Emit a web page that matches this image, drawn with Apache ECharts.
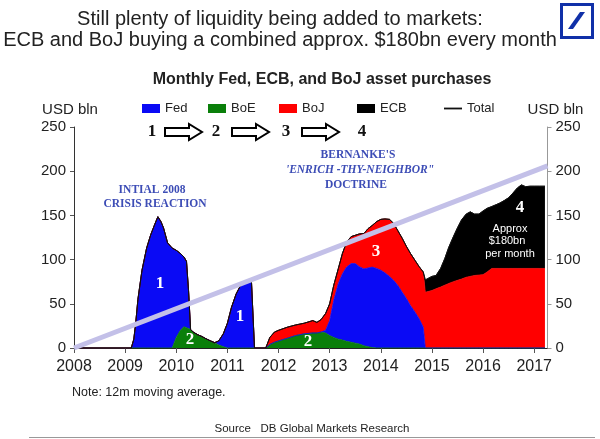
<!DOCTYPE html>
<html>
<head>
<meta charset="utf-8">
<script src="https://cdn.jsdelivr.net/npm/echarts@6/dist/echarts.min.js"></script>
<style>
  html, body { margin: 0; padding: 0; background: #fff; }
  #chart { width: 600px; height: 439px; }
</style>
</head>
<body>
<div id="chart"></div>
<script>
// x positions in fractional years, shared by all stacked series
const years = [
  2008.00, 2009.12, 2009.17, 2009.21, 2009.25, 2009.33, 2009.42, 2009.50, 2009.58, 2009.64,
  2009.70, 2009.75, 2009.83, 2009.92, 2010.00, 2010.08, 2010.15, 2010.20, 2010.24, 2010.28,
  2010.33, 2010.42, 2010.50, 2010.58, 2010.67, 2010.75, 2010.83, 2010.92, 2011.00, 2011.08,
  2011.17, 2011.25, 2011.33, 2011.42, 2011.47, 2011.53, 2011.75, 2011.83, 2011.92, 2012.00,
  2012.17, 2012.33, 2012.50, 2012.67, 2012.75, 2012.83, 2012.92, 2013.00, 2013.08, 2013.17,
  2013.25, 2013.33, 2013.42, 2013.50, 2013.58, 2013.67, 2013.75, 2013.83, 2013.92, 2014.00,
  2014.08, 2014.17, 2014.25, 2014.33, 2014.42, 2014.50, 2014.58, 2014.67, 2014.75, 2014.83,
  2014.87, 2015.00, 2015.08, 2015.17, 2015.25, 2015.33, 2015.42, 2015.50, 2015.58, 2015.67,
  2015.75, 2015.83, 2015.92, 2016.00, 2016.08, 2016.17, 2016.25, 2016.33, 2016.42, 2016.50,
  2016.58, 2016.67, 2016.75, 2016.83, 2016.92, 2017.00, 2017.10, 2017.21
];

// USD bln per month, 12m moving average (stack order: BoE, Fed, BoJ, ECB)
const boe = [
  0, 0, 0, 0, 0, 0, 0, 0, 0, 0,
  0, 0, 0, 0, 12, 20, 24, 23, 22, 21,
  18, 15, 13, 10.5, 8, 6, 3.5, 1.5, 0, 0,
  0, 0, 0, 0, 0, 0, 0, 4, 6.5, 8,
  11, 14, 16, 17, 17, 18, 17, 14, 12, 10,
  9, 7.5, 6.5, 5.5, 4.5, 2.5, 1.5, 0.5, 0, 0,
  0, 0, 0, 0, 0, 0, 0, 0, 0, 0,
  0, 0, 0, 0, 0, 0, 0, 0, 0, 0,
  0, 0, 0, 0, 0, 0, 0, 0, 0, 0,
  0, 0, 0, 0, 0, 0, 0, 0
];
const fed = [
  0, 0, 10, 30, 55, 88, 113, 128, 140, 148.5,
  143, 136, 119, 113, 98.5, 87, 79, 75, 43, 0,
  0, 0, 0, 0, 0, 0, 4.5, 14.5, 28, 46,
  61, 70, 74, 75.5, 76, 0, 0, 0, 0, 0,
  0, 0, 0, 0, 0, 0, 3, 17, 42, 63,
  75, 84, 89, 90, 87.5, 87, 89, 91, 90, 88,
  85, 81, 76.5, 71, 63, 56, 48, 40.5, 33, 23.5,
  0, 0, 0, 0, 0, 0, 0, 0, 0, 0,
  0, 0, 0, 0, 0, 0, 0, 0, 0, 0,
  0, 0, 0, 0, 0, 0, 0, 0
];
const boj = [
  0, 0, 0, 0, 0, 0, 0, 0, 0, 0,
  0, 0, 0, 0, 0, 0, 0, 0, 0, 0,
  0, 0, 0, 0, 0, 0, 0, 0, 0, 0,
  0, 0, 0, 0, 0, 0, 0, 8, 11.5, 12,
  12.5, 12, 12, 14, 12, 14, 19, 19, 17, 17,
  23, 28, 30.5, 32, 37, 40, 44.5, 47, 53, 57.5,
  61, 64.5, 64.5, 62, 61, 59, 59, 58.5, 59, 62.5,
  63, 65, 67, 69, 71, 73, 75, 76.5, 78, 80,
  81, 82, 82.5, 83, 86, 90, 90, 90, 90, 90,
  90, 90, 90, 90, 90, 90, 90, 90
];
const ecb = [
  0, 0, 0, 0, 0, 0, 0, 0, 0, 0,
  0, 0, 0, 0, 0, 0, 0, 0, 0, 0,
  0, 0, 0, 0, 0, 0, 0, 0, 0, 0,
  0, 0, 0, 0, 0, 0, 0, 0, 0, 0,
  0, 0, 0, 0, 0, 0, 0, 0, 0, 0,
  0, 0, 0, 0, 0, 0, 0, 0, 0, 0,
  0, 0, 0, 0, 0, 0, 0, 0, 0, 0,
  14, 16, 15, 21, 30, 41, 51, 59.5, 67, 71.5,
  73, 69.5, 69, 72, 72, 70, 72, 74, 77, 80,
  85, 91, 94.5, 92.5, 93, 93, 93, 93
];

// hand-drawn trend line added on the chart
const trendX = [2008, 2017.26];
const trendY = [0, 206];

const yearTicks = [2008, 2009, 2010, 2011, 2012, 2013, 2014, 2015, 2016, 2017];

const total = years.map((x, i) => boe[i] + fed[i] + boj[i] + ecb[i]);
// value first, year second: the stack has to run on the value dimension
const toPoints = vals => years.map((x, i) => [vals[i], x]);

const SANS = 'Liberation Sans, Arial, sans-serif';
const SERIF = 'Liberation Serif, Times New Roman, serif';
const NOTE_BLUE = '#3d4db6';

function areaSeries(name, vals, color) {
  return {
    name: name,
    type: 'line',
    stack: 'cb',
    data: toPoints(vals),
    encode: { x: 1, y: 0 },
    symbol: 'none',
    lineStyle: { color: color, width: 0.8 },
    itemStyle: { color: color },
    areaStyle: { color: color, opacity: 1 },
    z: 2,
    silent: true
  };
}

function legendAt(name, left, icon) {
  return {
    data: [{ name: name, icon: icon }], left: left, top: 102, padding: 0,
    itemWidth: 18, itemHeight: 9, itemGap: 4,
    textStyle: { fontSize: 13, color: '#222', fontFamily: SANS },
    selectedMode: false
  };
}

function label(text, x, y, size, color, extra) {
  return {
    type: 'text', x: x, y: y, z: 100,
    style: Object.assign({
      text: text, fontSize: size, fontFamily: SANS, fill: color,
      align: 'center', verticalAlign: 'middle',
      textAlign: 'center', textVerticalAlign: 'middle'
    }, extra || {})
  };
}

function arrow(x0, y0) {
  const p = [[0, -4], [24, -4], [24, -8], [37, 0], [24, 8], [24, 4], [0, 4]];
  return {
    type: 'polygon', z: 100,
    shape: { points: p.map(q => [x0 + q[0], y0 + q[1]]) },
    style: { fill: '#fff', stroke: '#000', lineWidth: 2 }
  };
}

const bold = { fontWeight: 'bold', fontFamily: SERIF };

const chart = echarts.init(document.getElementById('chart'));
chart.setOption({
  animation: false,
  backgroundColor: '#fff',
  grid: { left: 74, right: 52.5, top: 127, bottom: 91 },
  legend: [
    legendAt('Fed', 142, 'rect'),
    legendAt('BoE', 208, 'rect'),
    legendAt('BoJ', 279, 'rect'),
    legendAt('ECB', 357, 'rect'),
    legendAt('Total', 444, 'path://M0 0 L20 0 L20 2 L0 2 Z')
  ],
  xAxis: {
    type: 'value', min: 2008, max: 2017.26,
    splitLine: { show: false },
    axisLine: { lineStyle: { color: '#222', width: 1 } },
    axisTick: { customValues: yearTicks, length: 5, lineStyle: { color: '#555' } },
    axisLabel: {
      customValues: yearTicks, fontSize: 16, color: '#222', margin: 11,
      fontFamily: SANS, formatter: v => String(v)
    }
  },
  yAxis: [
    {
      type: 'value', position: 'left', min: 0, max: 250, interval: 50,
      name: 'USD bln', nameLocation: 'end', nameGap: 10,
      nameTextStyle: { fontSize: 15, color: '#222', fontFamily: SANS, padding: [0, 8, 0, 0] },
      splitLine: { show: false },
      axisLine: { show: true, lineStyle: { color: '#333' } },
      axisTick: { show: true, length: 4, lineStyle: { color: '#555' } },
      axisLabel: { fontSize: 15, color: '#222', margin: 8, fontFamily: SANS }
    },
    {
      type: 'value', position: 'right', min: 0, max: 250, interval: 50,
      name: 'USD bln', nameLocation: 'end', nameGap: 10,
      nameTextStyle: { fontSize: 15, color: '#222', fontFamily: SANS, padding: [0, 0, 0, 16] },
      splitLine: { show: false },
      axisLine: { show: true, lineStyle: { color: '#999' } },
      axisTick: { show: true, length: 4, lineStyle: { color: '#999' } },
      axisLabel: { fontSize: 15, color: '#222', margin: 8, fontFamily: SANS }
    }
  ],
  series: [
    areaSeries('BoE', boe, '#0a7f0a'),
    areaSeries('Fed', fed, '#0a0af5'),
    areaSeries('BoJ', boj, '#ff0000'),
    areaSeries('ECB', ecb, '#000000'),
    {
      name: 'Total', type: 'line', data: toPoints(total), encode: { x: 1, y: 0 },
      symbol: 'none',
      lineStyle: { color: '#111', width: 1 }, itemStyle: { color: '#111' },
      z: 3, silent: true
    },
    {
      name: 'Trend', type: 'line', symbol: 'none', silent: true, z: 5,
      data: trendX.map((x, i) => [x, trendY[i]]),
      lineStyle: { color: '#c3c0e8', width: 5, cap: 'butt' }
    }
  ],
  graphic: [
    label('Still plenty of liquidity being added to markets:', 280, 19, 20, '#222'),
    label('ECB and BoJ buying a combined approx. $180bn every month', 280, 40, 20, '#222'),
    label('Monthly Fed, ECB, and BoJ asset purchases', 322, 80, 16, '#222', { fontWeight: 'bold' }),
    // DB logo
    { type: 'rect', z: 100, shape: { x: 561.5, y: 4.5, width: 31, height: 33 },
      style: { fill: 'none', stroke: '#1030a8', lineWidth: 3 } },
    { type: 'polygon', z: 100, shape: { points: [[568, 29], [573, 29], [585, 12], [580, 12]] },
      style: { fill: '#1030a8' } },
    // sequence row
    label('1', 152, 132, 17, '#111', bold),
    arrow(165, 132),
    label('2', 216, 132, 17, '#111', bold),
    arrow(232, 132),
    label('3', 286, 132, 17, '#111', bold),
    arrow(302, 132),
    label('4', 362, 132, 17, '#111', bold),
    // annotations
    label('INTIAL 2008', 152, 190, 11.5, NOTE_BLUE, bold),
    label('CRISIS REACTION', 155, 204, 11.5, NOTE_BLUE, bold),
    label("BERNANKE'S", 358, 155, 11.5, NOTE_BLUE, bold),
    label('\'ENRICH -THY-NEIGHBOR"', 360, 170, 11.5, NOTE_BLUE, { fontWeight: 'bold', fontStyle: 'italic', fontFamily: SERIF }),
    label('DOCTRINE', 356, 185, 11.5, NOTE_BLUE, bold),
    label('1', 160, 284, 17, '#fff', bold),
    label('1', 240, 317, 17, '#fff', bold),
    label('2', 190, 340, 17, '#fff', bold),
    label('2', 308, 342, 17, '#fff', bold),
    label('3', 376, 252, 17, '#fff', bold),
    label('4', 520, 208, 17, '#fff', bold),
    label('Approx', 510, 229, 11, '#fff'),
    label('$180bn', 507, 241, 11, '#fff'),
    label('per month', 510, 254, 11, '#fff'),
    // footer
    label('Note: 12m moving average.', 72, 393, 12.5, '#222', { align: 'left', textAlign: 'left' }),
    label('Source   DB Global Markets Research', 312, 429, 11.5, '#222'),
    { type: 'line', z: 100, shape: { x1: 29, y1: 437.5, x2: 595, y2: 437.5 },
      style: { stroke: '#999', lineWidth: 1 } }
  ]
});
</script>
</body>
</html>
